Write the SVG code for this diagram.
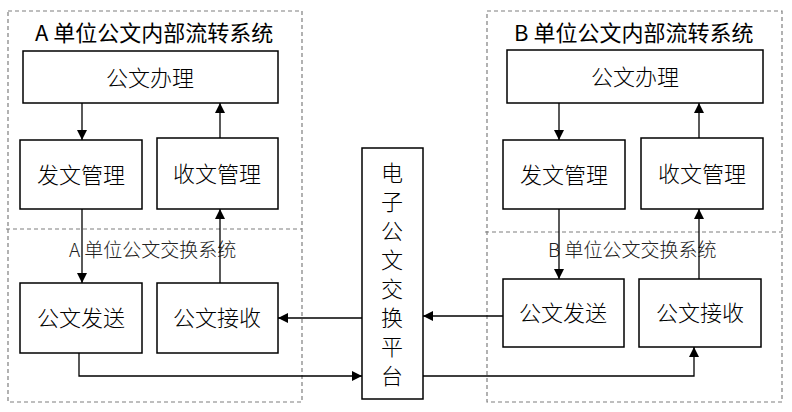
<svg xmlns="http://www.w3.org/2000/svg" width="792" height="412" viewBox="0 0 792 412">
<defs>
<marker id="ah" viewBox="0 0 10 10" refX="10" refY="5" markerWidth="10" markerHeight="10" markerUnits="userSpaceOnUse" orient="auto">
<path d="M0,0 L10,5 L0,10 Z" fill="#000"/>
</marker>
<style>
.bg{fill:#fff}
.dash{fill:none;stroke:#7f7f7f;stroke-width:1.2;stroke-dasharray:4 3}
.box{fill:#fff;stroke:#000;stroke-width:1.5}
.t{font-family:"Noto Sans CJK SC","Noto Sans",sans-serif;fill:#000;text-anchor:middle}
.bt{font-size:22px;font-weight:300}
.title{font-size:22px;text-anchor:start}
.sub{font-size:19px;text-anchor:start;fill:#222;font-weight:300}
.ln{fill:none;stroke:#000;stroke-width:1.3}
.arr{fill:none;stroke:#000;stroke-width:1.3;marker-end:url(#ah)}
</style>
</defs>
<rect class="bg" x="0" y="0" width="792" height="412"/>

<g id="regionA">
<rect class="dash" x="8" y="11" width="294" height="391"/>
<line class="dash" x1="6" y1="229" x2="302" y2="229"/>
<text class="t title" x="35" y="41">A 单位公文内部流转系统</text>
<text class="t sub" x="69" y="257">A 单位公文交换系统</text>
</g>
<g id="regionB">
<rect class="dash" x="487" y="11" width="295" height="391"/>
<line class="dash" x1="485" y1="232" x2="782" y2="232"/>
<text class="t title" x="514" y="41">B 单位公文内部流转系统</text>
<text class="t sub" x="548" y="257">B 单位公文交换系统</text>
</g>

<g id="connectors">
<line class="arr" x1="82" y1="103" x2="82" y2="140"/>
<line class="arr" x1="220" y1="138" x2="220" y2="103"/>
<line class="arr" x1="82" y1="209" x2="82" y2="283"/>
<line class="arr" x1="220" y1="283" x2="220" y2="209"/>
<polyline class="arr" points="79,353 79,376 362,376"/>
<line class="arr" x1="362" y1="318" x2="278" y2="318"/>
<line class="arr" x1="559" y1="103" x2="559" y2="140"/>
<line class="arr" x1="699" y1="138" x2="699" y2="103"/>
<line class="arr" x1="559" y1="209" x2="559" y2="279"/>
<line class="arr" x1="699" y1="279" x2="699" y2="209"/>
<line class="arr" x1="503" y1="316" x2="423" y2="316"/>
<polyline class="arr" points="423,376 694,376 694,347"/>
</g>

<g id="A_bangong"><rect class="box" x="23" y="51" width="255" height="52"/><text class="t bt" x="150" y="86">公文办理</text></g>
<g id="A_fawen"><rect class="box" x="20" y="140" width="122" height="69"/><text class="t bt" x="81" y="183">发文管理</text></g>
<g id="A_shouwen"><rect class="box" x="157" y="138" width="121" height="71"/><text class="t bt" x="217" y="182">收文管理</text></g>
<g id="A_fasong"><rect class="box" x="20" y="283" width="122" height="70"/><text class="t bt" x="81" y="326">公文发送</text></g>
<g id="A_jieshou"><rect class="box" x="157" y="283" width="121" height="70"/><text class="t bt" x="217" y="326">公文接收</text></g>

<g id="platform"><rect class="box" x="362" y="148" width="61" height="251"/>
<text class="t bt" x="392"><tspan x="392" y="181">电</tspan><tspan x="392" y="210">子</tspan><tspan x="392" y="239">公</tspan><tspan x="392" y="268">文</tspan><tspan x="392" y="297">交</tspan><tspan x="392" y="326">换</tspan><tspan x="392" y="355">平</tspan><tspan x="392" y="384">台</tspan></text>
</g>

<g id="B_bangong"><rect class="box" x="507" y="50" width="256" height="53"/><text class="t bt" x="635" y="85">公文办理</text></g>
<g id="B_fawen"><rect class="box" x="503" y="140" width="122" height="69"/><text class="t bt" x="564" y="183">发文管理</text></g>
<g id="B_shouwen"><rect class="box" x="641" y="138" width="122" height="71"/><text class="t bt" x="702" y="182">收文管理</text></g>
<g id="B_fasong"><rect class="box" x="503" y="279" width="121" height="68"/><text class="t bt" x="563" y="321">公文发送</text></g>
<g id="B_jieshou"><rect class="box" x="639" y="279" width="122" height="68"/><text class="t bt" x="700" y="321">公文接收</text></g>
</svg>
